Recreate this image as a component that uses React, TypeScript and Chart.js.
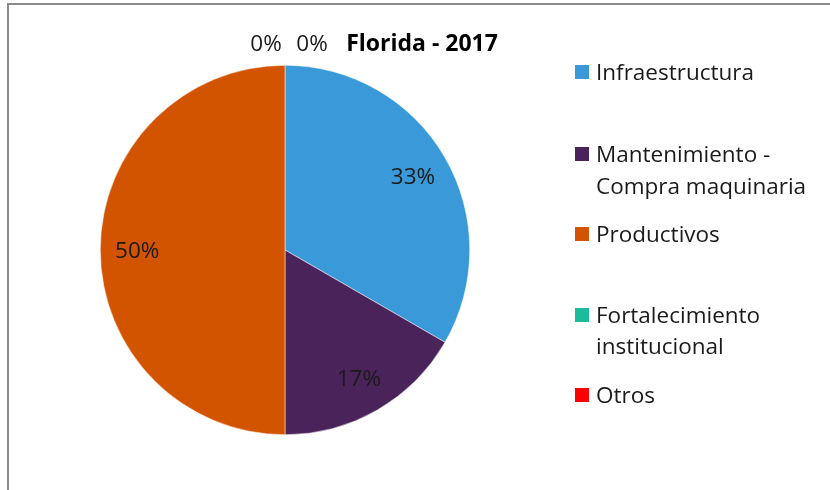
import React, { useEffect, useRef } from "react";
import { Chart, registerables } from "chart.js";

Chart.register(...registerables);

const categories = [
  "Infraestructura",
  "Mantenimiento - Compra maquinaria",
  "Productivos",
  "Fortalecimiento institucional",
  "Otros",
];
const legendLines = [
  ["Infraestructura"],
  ["Mantenimiento -", "Compra maquinaria"],
  ["Productivos"],
  ["Fortalecimiento", "institucional"],
  ["Otros"],
];
const values = [33.33, 16.67, 50, 0, 0];
const colors = ["#3A9AD9", "#4A235A", "#D35400", "#1ABC9C", "#FF0000"];
const titleText = "Florida - 2017";

const FONT = "'Open Sans', Lato, sans-serif";

export default function App() {
  const ref = useRef<HTMLCanvasElement | null>(null);

  useEffect(() => {
    document.body.style.margin = "0";
    const canvas = ref.current;
    if (!canvas) return;

    const frame = {
      id: "frame",
      beforeDraw(chart: any) {
        const ctx = chart.ctx;
        ctx.save();
        ctx.fillStyle = "#ffffff";
        ctx.fillRect(0, 0, chart.width, chart.height);
        ctx.strokeStyle = "#8a8a8a";
        ctx.lineWidth = 2;
        ctx.beginPath();
        ctx.moveTo(8, chart.height + 5);
        ctx.lineTo(8, 4);
        ctx.lineTo(chart.width + 5, 4);
        ctx.stroke();
        ctx.restore();
      },
    };

    const labels = {
      id: "labels",
      afterDraw(chart: any) {
        const ctx = chart.ctx;
        const meta = chart.getDatasetMeta(0);
        const data = chart.data.datasets[0].data as number[];
        const total = data.reduce((a, b) => a + b, 0);
        ctx.save();
        ctx.font = `22.5px ${FONT}`;
        ctx.fillStyle = "#1a1a1a";
        ctx.textAlign = "center";
        ctx.textBaseline = "middle";
        let zeroIdx = 0;
        const zeroOffsets = [-19, 27];
        meta.data.forEach((arc: any, i: number) => {
          const v = data[i];
          const pct = Math.round((v / total) * 100) + "%";
          const p = arc.getProps(["x", "y", "startAngle", "endAngle", "outerRadius"], true);
          if (v === 0) {
            const dx = zeroOffsets[zeroIdx] ?? 0;
            zeroIdx++;
            ctx.fillText(pct, p.x + dx, p.y - p.outerRadius - 21);
            return;
          }
          const mid = (p.startAngle + p.endAngle) / 2;
          const r = p.outerRadius * 0.8;
          ctx.fillText(pct, p.x + Math.cos(mid) * r, p.y + Math.sin(mid) * r + 1.5);
        });
        // title
        ctx.font = `bold 23px ${FONT}`;
        ctx.fillStyle = "#000000";
        ctx.fillText(titleText, 422, 44);

        // legend
        const ys = [[72], [154, 186], [234], [315, 346], [395]];
        legendLines.forEach((lines, i) => {
          ctx.fillStyle = colors[i];
          ctx.fillRect(575, ys[i][0] - 7, 14, 14);
          ctx.fillStyle = "#1a1a1a";
          ctx.font = `22.5px ${FONT}`;
          ctx.textAlign = "left";
          lines.forEach((t, j) => {
            ctx.fillText(t, 596, ys[i][j] + 1.5);
          });
        });
        ctx.restore();
      },
    };

    const chart = new Chart(canvas, {
      type: "pie",
      data: {
        labels: categories,
        datasets: [
          {
            data: values,
            backgroundColor: colors,
            borderColor: "#ffffff",
            borderWidth: 0.5,
          },
        ],
      },
      options: {
        responsive: false,
        animation: false,
        layout: { padding: { top: 65, bottom: 55, left: 100, right: 360 } },
        plugins: {
          legend: { display: false },
          tooltip: { enabled: false },
          title: { display: false },
        },
      },
      plugins: [frame, labels],
    });
    return () => chart.destroy();
  }, []);

  return <canvas ref={ref} width={830} height={490} style={{ display: "block" }} />;
}
